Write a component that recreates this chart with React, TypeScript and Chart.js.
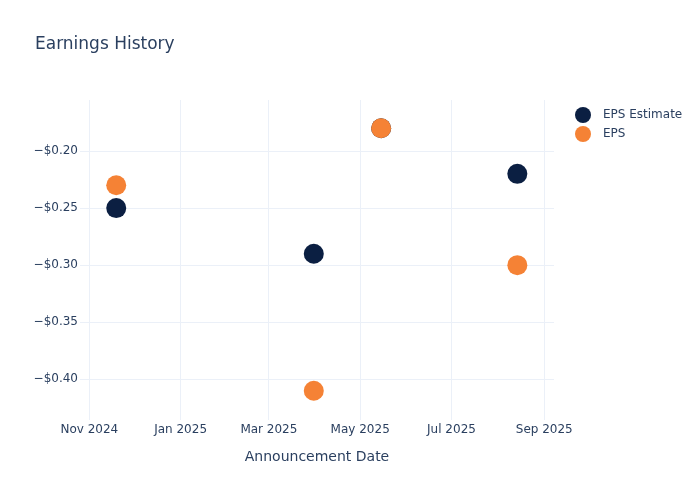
import React, { useEffect, useRef } from "react";
import { Chart, registerables } from "chart.js";

Chart.register(...registerables);

const chartTitle = "Earnings History";
const xAxisTitle = "Announcement Date";
const announcementDates = ["2024-11-19", "2025-03-31", "2025-05-15", "2025-08-14"];
const epsEstimate = [-0.25, -0.29, -0.18, -0.22];
const epsActual = [-0.23, -0.41, -0.18, -0.3];
const seriesLabels = ["EPS Estimate", "EPS"];
const seriesColors = ["#0b1f42", "#f58235"];
const xTickDates = ["2024-11-01", "2025-01-01", "2025-03-01", "2025-05-01", "2025-07-01", "2025-09-01"];
const yTickValues = [-0.2, -0.25, -0.3, -0.35, -0.4];
const xRange = ["2024-10-25T19:00:00Z", "2025-09-07T12:00:00Z"];
const yRange = [-0.4356, -0.1553];

const MONTHS = ["Jan", "Feb", "Mar", "Apr", "May", "Jun", "Jul", "Aug", "Sep", "Oct", "Nov", "Dec"];
const toMs = (s: string) => new Date(s.length === 10 ? s + "T00:00:00Z" : s).getTime();
const fmtDate = (ms: number) => {
  const d = new Date(ms);
  return MONTHS[d.getUTCMonth()] + " " + d.getUTCFullYear();
};
const fmtMoney = (v: number) => (v < 0 ? "\u2212" : "") + "$" + Math.abs(v).toFixed(2);

const FONT = "'DejaVu Sans', sans-serif";
const TEXT = "#2a3f5f";
const GRID = "#ebf0f8";

export default function App() {
  const ref = useRef<HTMLCanvasElement | null>(null);
  useEffect(() => {
    document.body.style.margin = "0";
    if (!ref.current) return;
    const overlay = {
      id: "overlay",
      afterDraw(chart: any) {
        const ctx = chart.ctx;
        ctx.save();
        ctx.fillStyle = TEXT;
        ctx.font = "17px " + FONT;
        ctx.textBaseline = "middle";
        ctx.textAlign = "left";
        ctx.fillText(chartTitle, 35, 45);
        seriesLabels.forEach((lab, i) => {
          const y = 115 + i * 19;
          ctx.beginPath();
          ctx.arc(583, y, 8, 0, Math.PI * 2);
          ctx.fillStyle = seriesColors[i];
          ctx.fill();
          ctx.fillStyle = TEXT;
          ctx.font = "12px " + FONT;
          ctx.fillText(lab, 603, y);
        });
        ctx.restore();
      },
    };
    const chart = new Chart(ref.current, {
      type: "scatter",
      data: {
        datasets: [
          {
            label: seriesLabels[0],
            data: announcementDates.map((d, i) => ({ x: toMs(d), y: epsEstimate[i] })),
            backgroundColor: seriesColors[0],
            borderColor: seriesColors[0],
            pointRadius: 10,
            pointBorderWidth: 0,
            order: 1,
          },
          {
            label: seriesLabels[1],
            data: announcementDates.map((d, i) => ({ x: toMs(d), y: epsActual[i] })),
            backgroundColor: seriesColors[1],
            borderColor: seriesColors[1],
            pointRadius: 10,
            pointBorderWidth: 0,
            order: 0,
          },
        ],
      },
      options: {
        animation: false,
        responsive: false,
        maintainAspectRatio: false,
        layout: { padding: { left: 0, right: 146, top: 100, bottom: 0 } },
        plugins: { legend: { display: false }, title: { display: false }, tooltip: { enabled: false } },
        scales: {
          x: {
            type: "linear",
            min: toMs(xRange[0]),
            max: toMs(xRange[1]),
            afterBuildTicks: (s: any) => {
              s.ticks = xTickDates.map((d) => ({ value: toMs(d) }));
            },
            afterFit: (s: any) => {
              s.height = 80;
            },
            grid: { color: GRID, drawTicks: false },
            border: { display: false },
            ticks: {
              color: TEXT,
              font: { family: FONT, size: 12 },
              padding: 3,
              maxRotation: 0,
              autoSkip: false,
              callback: (v: any) => fmtDate(Number(v)),
            },
            title: {
              display: true,
              text: xAxisTitle,
              color: TEXT,
              font: { family: FONT, size: 14 },
              padding: { top: 0, bottom: 34 },
            },
          },
          y: {
            type: "linear",
            min: yRange[0],
            max: yRange[1],
            afterBuildTicks: (s: any) => {
              s.ticks = yTickValues.map((v) => ({ value: v }));
            },
            afterFit: (s: any) => {
              s.width = 80;
            },
            grid: { color: GRID, drawTicks: false },
            border: { display: false },
            ticks: {
              color: TEXT,
              font: { family: FONT, size: 12 },
              padding: 2,
              callback: (v: any) => fmtMoney(Number(v)),
            },
          },
        },
      },
      plugins: [overlay],
    });
    return () => chart.destroy();
  }, []);
  return <canvas ref={ref} width={700} height={500} style={{ display: "block" }} />;
}
